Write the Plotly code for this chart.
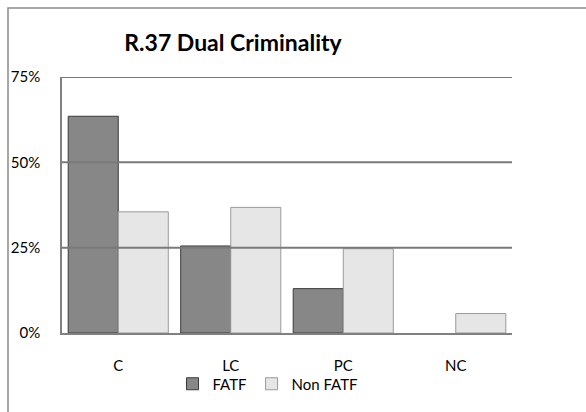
import plotly.graph_objects as go

categories = ["C", "LC", "PC", "NC"]
fatf = [0.635, 0.255, 0.13, 0.0]
non_fatf = [0.355, 0.368, 0.247, 0.057]
tick_vals = [0, 0.25, 0.5, 0.75]
tick_text = ["0%", "25%", "50%", "75%"]

fig = go.Figure()
fig.add_trace(go.Bar(x=categories, y=fatf, name="FATF",
                     marker=dict(color="#878787",
                                 line=dict(color="#3a3a3a", width=[1 if v > 0 else 0 for v in fatf]))))
fig.add_trace(go.Bar(x=categories, y=non_fatf, name="Non FATF",
                     marker=dict(color="#e6e6e6",
                                 line=dict(color="#9a9a9a", width=[1 if v > 0 else 0 for v in non_fatf]))))

L, R, T, B = 62, 74, 77, 79
fig.update_layout(
    width=586, height=412,
    margin=dict(l=L, r=R, t=T, b=B),
    paper_bgcolor="white", plot_bgcolor="white",
    barmode="group", bargap=0.11, bargroupgap=0,
    font=dict(family="Lato, Open Sans, sans-serif", size=15, color="black"),
    title=dict(text="<b>R.37 Dual Criminality</b>", x=233/586, xanchor="center",
               y=1 - 43/412, yanchor="middle",
               font=dict(size=23, family="Lato, Open Sans, sans-serif", color="black")),
    legend=dict(orientation="h", x=(268 - L) / 450, xanchor="center",
                y=-(384 - 333) / 256, yanchor="middle",
                font=dict(size=15), itemwidth=30, traceorder="normal",
                bgcolor="rgba(0,0,0,0)"),
    xaxis=dict(showgrid=False, showline=True, linecolor="#808080", linewidth=2,
               ticks="", ticklabelstandoff=18, tickfont=dict(size=15)),
    yaxis=dict(range=[0, 0.75], tickvals=tick_vals, ticktext=tick_text,
               showgrid=False, showline=True, linecolor="#808080", linewidth=1.5,
               ticks="", ticklabelstandoff=17, zeroline=False, tickfont=dict(size=15)),
)

for v in tick_vals[1:]:
    fig.add_shape(type="line", xref="paper", yref="y", x0=0, x1=1, y0=v, y1=v,
                  line=dict(color="#7a7a7a", width=2), layer="above")

# outer chart border
fig.add_shape(type="rect", xref="paper", yref="paper",
              x0=(8 - L) / 450, x1=1.5, y0=-1, y1=1 + (T - 8) / 256,
              line=dict(color="#8c8c8c", width=1.5), layer="below")

fig.write_html("out.html")
